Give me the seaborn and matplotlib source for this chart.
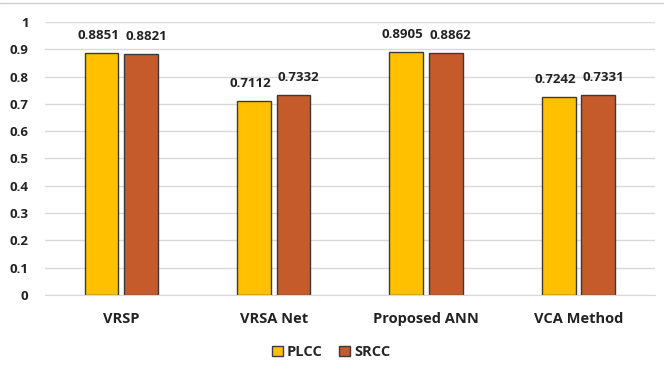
import matplotlib
matplotlib.use("Agg")
import matplotlib.pyplot as plt
import seaborn as sns
import pandas as pd
from matplotlib.lines import Line2D

methods = ["VRSP", "VRSA Net", "Proposed ANN", "VCA Method"]
plcc = [0.8851, 0.7112, 0.8905, 0.7242]
srcc = [0.8821, 0.7332, 0.8862, 0.7331]
series = ["PLCC", "SRCC"]
colors = ["#FFC000", "#C55A2A"]
yticks = [0, 0.1, 0.2, 0.3, 0.4, 0.5, 0.6, 0.7, 0.8, 0.9, 1]
ytick_labels = ["0", "0.1", "0.2", "0.3", "0.4", "0.5", "0.6", "0.7", "0.8", "0.9", "1"]

df = pd.DataFrame({
    "Method": methods * 2,
    "Metric": ["PLCC"] * len(methods) + ["SRCC"] * len(methods),
    "Value": plcc + srcc,
})

sns.set_style("white")
plt.rcParams["font.family"] = ["Open Sans", "DejaVu Sans"]

fig = plt.figure(figsize=(6.64, 3.81), dpi=100)
ax = fig.add_axes([0.068, 0.226, 0.918, 0.716])

sns.barplot(data=df, x="Method", y="Value", hue="Metric", hue_order=series,
            palette=colors, saturation=1, width=0.52, gap=0.15, edgecolor="#3a3a3a",
            linewidth=1.0, ax=ax, legend=True, errorbar=None)

for cont, vals, dx in zip(ax.containers, [plcc, srcc], [-2.5, 3.5]):
    texts = ax.bar_label(cont, labels=[f"{v:.4f}" for v in vals], padding=8,
                         fontsize=9.5, fontweight="bold", color="#222222")
    for t in texts:
        t.xyann = (dx, t.xyann[1])

ax.set_ylim(0, 1)
ax.set_xlim(-0.5, 3.5)
ax.set_yticks(yticks)
ax.set_yticklabels(ytick_labels, fontsize=9.5, fontweight="bold", color="#222222")
ax.set_xticklabels(methods, fontsize=10.5, fontweight="bold", color="#222222")
ax.tick_params(axis="x", length=0, pad=12)
ax.tick_params(axis="y", length=0, pad=12)
ax.yaxis.grid(True, color="#D9D9D9", linewidth=1.0)
ax.set_axisbelow(True)
for s in ["top", "right", "left"]:
    ax.spines[s].set_visible(False)
ax.spines["bottom"].set_color("#D9D9D9")
ax.set_xlabel("")
ax.set_ylabel("")

handles, labels = ax.get_legend_handles_labels()
ax.legend(handles, labels, loc="center", bbox_to_anchor=(0.469, -0.21), ncol=2,
          frameon=False, handlelength=0.75, handleheight=0.75, handletextpad=0.3,
          columnspacing=1.1, prop={"weight": "bold", "size": 10.5})

fig.add_artist(Line2D([0, 1], [0.992, 0.992], transform=fig.transFigure,
                      color="#D0D0D0", linewidth=1.0))

fig.savefig("out.png", dpi=100)
